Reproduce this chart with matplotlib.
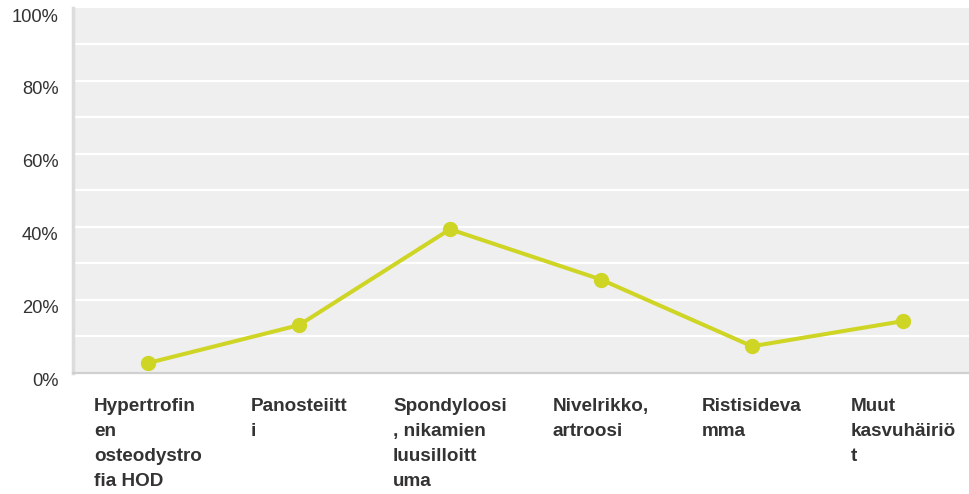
import numpy as np
import matplotlib.pyplot as plt
import matplotlib.transforms as mtransforms

categories = ['Hypertrofin\nen\nosteodystro\nfia HOD', 'Panosteiitt\ni',
              'Spondyloosi\n, nikamien\nluusilloitt\numa', 'Nivelrikko,\nartroosi',
              'Ristisideva\nmma', 'Muut\nkasvuhäiriö\nt']
values = [2.6, 13.0, 39.3, 25.5, 7.2, 14.1]
yticks = [0, 20, 40, 60, 80, 100]
ytick_labels = ['0%', '20%', '40%', '60%', '80%', '100%']

plt.rcParams['font.family'] = ['Liberation Sans', 'DejaVu Sans']

fig = plt.figure(figsize=(9.69, 4.94), dpi=100)
# plot area runs past the right edge of the canvas, as in the original
ax = fig.add_axes([72.5/969, 1-372.5/494, 906/969, (372.5-8)/494])
ax.set_facecolor('#efefef')

x = np.arange(len(categories))
ax.plot(x, values, color='#ced524', lw=2.9, marker='o', ms=10, clip_on=False, zorder=3)

ax.set_xlim(-0.5, len(categories)-0.5)
ax.set_ylim(0, 100)
for g in range(10, 100, 10):
    ax.axhline(g, color='white', lw=1.6, zorder=1)

ax.set_yticks(yticks)
ax.set_yticklabels(ytick_labels, fontsize=13.2, color='#333333')
ax.set_xticks(x)
ax.set_xticklabels(categories, fontsize=13.6, fontweight='bold', color='#333333',
                   ha='center', multialignment='left', va='top', linespacing=1.62)
ax.tick_params(axis='both', length=0)
ax.tick_params(axis='y', pad=10)
ax.tick_params(axis='x', pad=18)

off_y = mtransforms.ScaledTranslation(0, -0.07, fig.dpi_scale_trans)
for lab in ax.get_yticklabels():
    lab.set_transform(lab.get_transform() + off_y)

for s in ['top', 'right']:
    ax.spines[s].set_visible(False)
ax.spines['left'].set_color('#dcdcdc')
ax.spines['left'].set_linewidth(2.5)
ax.spines['bottom'].set_color('#d0d0d0')
ax.spines['bottom'].set_linewidth(1.6)

fig.savefig('out.png', dpi=100)
